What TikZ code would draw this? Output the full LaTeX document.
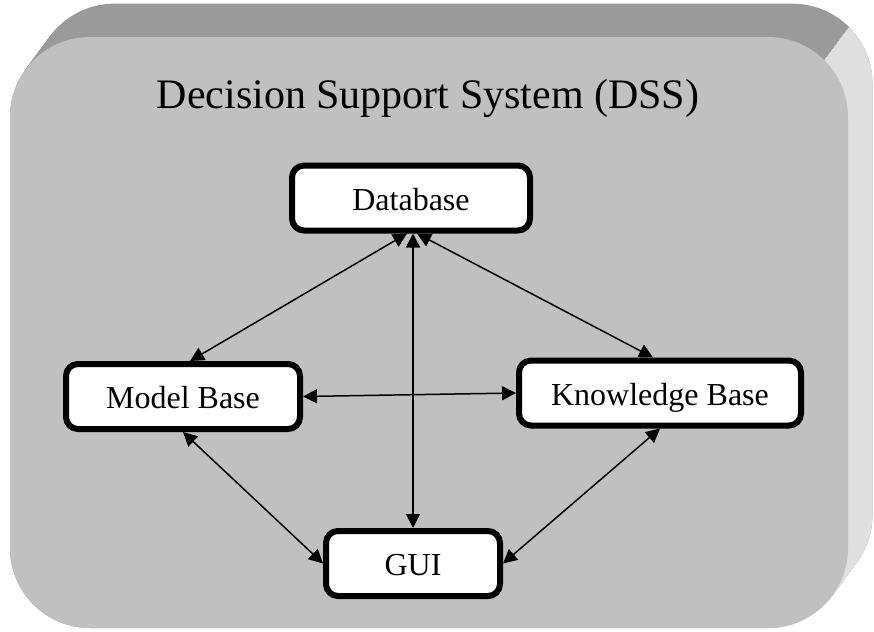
\documentclass[tikz,border=0pt]{standalone}
\usepackage{fontspec}
\setmainfont{Liberation Serif}
\usepackage{tikz}
\usetikzlibrary{arrows.meta,backgrounds}
\definecolor{facegray}{HTML}{C0C0C0}
\definecolor{topgray}{HTML}{9A9A9A}
\definecolor{sidegray}{HTML}{DFDFDF}
\newcommand{\facecolor}{facegray}
\newcommand{\boxborder}{3pt}
\newcommand{\rad}{40pt}
\newcommand{\tipsize}{7pt}

\begin{document}
\begin{tikzpicture}[x=0.5pt,y=-0.5pt,
block/.style={draw,fill=white,line width=\boxborder,rounded corners=6pt,minimum height=32.5pt,inner sep=0pt,text height=12pt,text depth=0pt,font=\fontsize{16}{19}\selectfont},
link/.style={{Triangle[length=\tipsize,width=\tipsize]}-{Triangle[length=\tipsize,width=\tipsize]},line width=0.75pt}]
\useasboundingbox (0,0) rectangle (874,632);
\node[block,minimum width=119pt] (db) at (411,198) {Database};
\node[block,minimum width=117pt] (mb) at (183,396.5) {Model Base};
\node[block,minimum width=141pt] (kb) at (660,393) {Knowledge Base};
\node[block,minimum width=87pt] (gui) at (413,563.5) {GUI};
\node[font=\fontsize{21}{25}\selectfont,anchor=base] (title) at (428,108) {Decision Support System (DSS)};
%links
\draw[link] ([xshift=-2pt]db.south) -- ([xshift=3.5pt]mb.north);
\draw[link] ([xshift=3pt]db.south) -- ([xshift=-3.5pt]kb.north);
\draw[link] ([xshift=1pt]db.south) -- (gui.north);
\draw[link] (mb.east) -- (kb.west);
\draw[link] (mb.south) -- (gui.west);
\draw[link] (kb.south) -- (gui.east);
%panel
\begin{scope}[on background layer]
\foreach \s in {0,0.02,...,1.0}
\fill[topgray,rounded corners=\rad,shift={({25*\s},{-34*\s})}] (10,37) rectangle (848,628);
\begin{scope}
\clip (792,104.6) -- (880,-14.4) -- (900,-14.4) -- (900,700) -- (792,700) -- cycle;
\foreach \s in {0,0.02,...,1.0}
\fill[sidegray,rounded corners=\rad,shift={({25*\s},{-34*\s})}] (10,37) rectangle (848,628);
\end{scope}
\fill[\facecolor,rounded corners=\rad] (10,37) rectangle (848,628);
\end{scope}
\end{tikzpicture}
\end{document}
